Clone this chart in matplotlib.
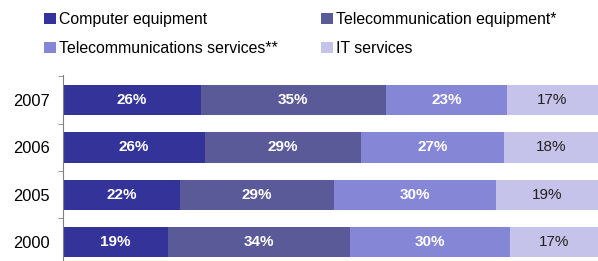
import matplotlib.pyplot as plt
import numpy as np

plt.rcParams['font.family'] = ['Liberation Sans', 'DejaVu Sans']

years = ['2000', '2005', '2006', '2007']
series = ['Computer equipment', 'Telecommunication equipment*',
          'Telecommunications services**', 'IT services']
# shares (the printed labels are rounded)
computer = [19.5, 21.7, 26.4, 25.7]
telecom_eq = [34.1, 28.8, 29.2, 34.6]
telecom_srv = [30.0, 30.3, 26.8, 22.7]
it_srv = [16.5, 19.1, 17.6, 17.0]
# labels as printed on the bars
computer_lbl = [19, 22, 26, 26]
telecom_eq_lbl = [34, 29, 29, 35]
telecom_srv_lbl = [30, 30, 27, 23]
it_srv_lbl = [17, 19, 18, 17]

colors = ['#333399', '#5b5a99', '#8686d6', '#c5c3ea']
text_colors = ['white', 'white', 'white', '#222222']
weights = ['bold', 'bold', 'bold', 'normal']

data = np.array([computer, telecom_eq, telecom_srv, it_srv], dtype=float)
labels = [computer_lbl, telecom_eq_lbl, telecom_srv_lbl, it_srv_lbl]
shares = data / data.sum(axis=0) * 100

fig = plt.figure(figsize=(5.98, 2.61), dpi=100)
ax = fig.add_axes([0.106, 0.0, 0.894, 0.713])

y = np.arange(len(years))
left = np.zeros(len(years))
handles = []
for i in range(len(series)):
    bars = ax.barh(y, shares[i], left=left, height=0.64, color=colors[i],
                   label=series[i])
    handles.append(bars)
    for j in range(len(years)):
        ax.text(left[j] + shares[i][j] / 2, y[j], f'{labels[i][j]}%',
                ha='center', va='center', color=text_colors[i],
                fontsize=11, fontweight=weights[i])
    left += shares[i]

ax.set_xlim(0, 100)
ax.set_ylim(-0.40, 3.53)
ax.set_yticks(y)
ax.set_yticklabels(years, fontsize=11.8)
ax.tick_params(axis='y', which='major', length=0, pad=10)
ax.set_yticks(y + 0.5, minor=True)
ax.tick_params(axis='y', which='minor', length=3.6, color='#808080')
ax.set_xticks([])
for s in ['top', 'right', 'bottom']:
    ax.spines[s].set_visible(False)
ax.spines['left'].set_color('#808080')

# legend is filled column by column, so reorder to get rows as in the original
order = [0, 2, 1, 3]
fig.legend(handles=[handles[k] for k in order], labels=[series[k] for k in order],
           ncol=2, frameon=False, loc='upper left', bbox_to_anchor=(0.060, 0.985),
           borderpad=0, fontsize=11.4, handlelength=0.75, handleheight=0.75,
           handletextpad=0.2, columnspacing=2.75, labelspacing=0.9)

fig.savefig('out.png', dpi=100)
